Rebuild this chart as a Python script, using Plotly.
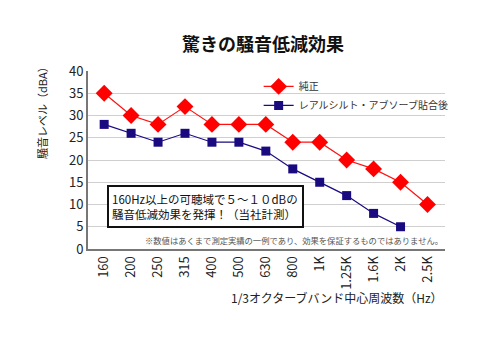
import plotly.graph_objects as go

categories = ["160", "200", "250", "315", "400", "500", "630", "800", "1K", "1.25K", "1.6K", "2K", "2.5K"]
series_names = ["純正", "レアルシルト・アブソーブ貼合後"]
junsei = [35, 30, 28, 32, 28, 28, 28, 24, 24, 20, 18, 15, 10]
after = [28, 26, 24, 26, 24, 24, 22, 18, 15, 12, 8, 5, None]
y_ticks = [0, 5, 10, 15, 20, 25, 30, 35, 40]

FONT = "Noto Sans CJK JP"
W, H = 480, 361
L, R, T, B = 88, 35, 71, 112
PW, PH = W - L - R, H - T - B

fig = go.Figure()
fig.add_trace(go.Scatter(
    x=list(range(len(categories))), y=junsei, name=series_names[0],
    mode="lines+markers",
    line=dict(color="#ff1010", width=1.2),
    marker=dict(symbol="diamond", size=13, color="#ff0000"),
))
fig.add_trace(go.Scatter(
    x=list(range(len(categories))), y=after, name=series_names[1],
    mode="lines+markers",
    line=dict(color="#1a0a80", width=1.2),
    marker=dict(symbol="square", size=9, color="#1a0a80"),
))

fig.update_layout(
    width=W, height=H,
    margin=dict(l=L, r=R, t=T, b=B),
    paper_bgcolor="white", plot_bgcolor="white",
    font=dict(family=FONT, color="#222"),
    showlegend=True,
    legend=dict(x=0.478, y=0.995, xanchor="left", yanchor="top",
                bgcolor="rgba(0,0,0,0)", font=dict(size=10, color="#333"),
                itemwidth=30, tracegroupgap=0),
    title=dict(text="<b>驚きの騒音低減効果</b>", x=263 / W, xanchor="center",
               y=1 - 45 / H, yanchor="middle",
               font=dict(size=18, color="#111", family=FONT)),
)
fig.update_xaxes(
    range=[-0.6, 12.65],
    tickmode="array", tickvals=list(range(len(categories))), ticktext=categories,
    tickangle=-90, tickfont=dict(size=13, color="#222"),
    showgrid=False, showline=True, linecolor="#777", linewidth=2,
    ticks="", zeroline=False,
)
fig.update_yaxes(
    range=[0, 40], tickvals=y_ticks,
    tickfont=dict(size=13, color="#222"),
    showgrid=True, gridcolor="#cfcfcf", gridwidth=1,
    showline=True, linecolor="#777", linewidth=2,
    ticks="", zeroline=False,
)

fig.add_annotation(xref="paper", yref="paper", x=(42 - L) / PW, y=(249 - 110) / PH,
                   xanchor="center", yanchor="middle",
                   text="騒音レベル（dBA）", textangle=-90, showarrow=False,
                   font=dict(size=11, color="#222"))
fig.add_annotation(xref="paper", yref="paper", x=1.0, y=(249 - 297) / PH,
                   xanchor="right", yanchor="middle",
                   text="1/3オクターブバンド中心周波数（Hz）", showarrow=False,
                   font=dict(size=12, color="#222"))
fig.add_annotation(xref="paper", yref="paper", x=1.0, y=(249 - 240) / PH,
                   xanchor="right", yanchor="middle",
                   text="※数値はあくまで測定実績の一例であり、効果を保証するものではありません。",
                   showarrow=False, font=dict(size=8.3, color="#555"))
fig.add_annotation(xref="paper", yref="paper",
                   x=(205.5 - L) / PW, y=(249 - 206.5) / PH,
                   xanchor="center", yanchor="middle",
                   text="160Hz以上の可聴域で５～１０dBの<br>騒音低減効果を発揮！（当社計測）",
                   align="left", showarrow=False,
                   font=dict(size=11.5, color="#111"),
                   bordercolor="#111", borderwidth=2, borderpad=3,
                   bgcolor="white", width=187, height=33)

fig.write_html("out.html", config={"displayModeBar": False},
               post_script="document.body.style.margin='0';document.body.style.padding='0';")
